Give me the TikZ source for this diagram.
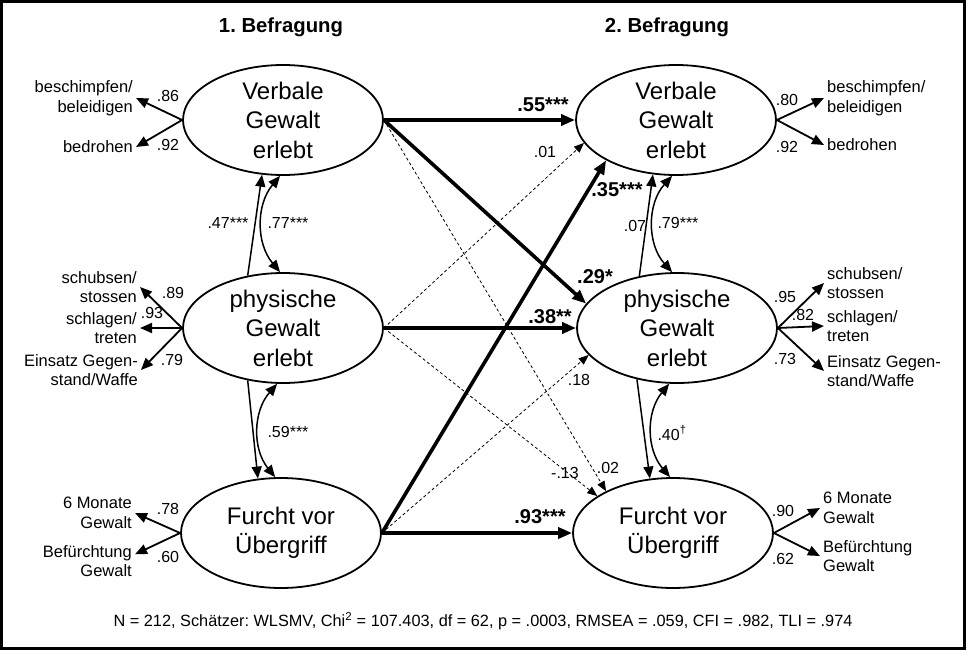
\documentclass[tikz,border=0pt]{standalone}
\usepackage{fontspec}
\setmainfont{Liberation Sans}
\usetikzlibrary{positioning,arrows.meta,shapes.geometric}

\begin{document}
\frenchspacing
\begin{tikzpicture}[x=1pt, y=-1pt,
  latent/.style={draw, ellipse, line width=1.8pt, minimum width=200pt, minimum height=110pt, inner sep=0pt, align=center, font=\fontsize{24}{29.5}\selectfont},
  indl/.style={anchor=east, align=right, inner sep=3pt, font=\fontsize{16.5}{19.5}\selectfont},
  indr/.style={anchor=west, align=left, inner sep=3pt, font=\fontsize{16.5}{19.5}\selectfont},
  coef/.style={inner sep=0pt, font=\fontsize{16}{18}\selectfont},
  bcoef/.style={inner sep=0pt, font=\fontsize{20}{22}\selectfont\bfseries},
  headline/.style={font=\fontsize{20.3}{22}\selectfont\bfseries},
  load/.style={-{Triangle[length=12pt,width=10pt]}, line width=1.8pt},
  reg/.style={-{Triangle[length=12pt,width=10pt]}, line width=1.5pt},
  cov/.style={{Triangle[length=12pt,width=10pt]}-{Triangle[length=12pt,width=10pt]}, line width=1.5pt},
  strong/.style={-{Triangle[length=14pt,width=11pt]}, line width=3.6pt},
  weak/.style={-{Triangle[length=10pt,width=8pt]}, line width=0.8pt, dash pattern=on 3pt off 2.5pt},
]
\useasboundingbox (0,0) rectangle (966,650);
\draw[line width=3pt] (1.5,1.5) rectangle (964.5,648.5);
% --- headings ---
\node[headline] (t1) at (281,27) {1. Befragung};
\node[headline] (t2) at (667,27) {2. Befragung};
% --- latent variables ---
\node[latent] (v1) at (283,120) {Verbale\\Gewalt\\erlebt};
\node[latent] (p1) at (283,328) {physische\\Gewalt\\erlebt};
\node[latent] (f1) at (281,533) {Furcht vor\\Übergriff};
\node[latent] (v2) at (676,120) {Verbale\\Gewalt\\erlebt};
\node[latent] (p2) at (677,328) {physische\\Gewalt\\erlebt};
\node[latent] (f2) at (673,533) {Furcht vor\\Übergriff};
% --- indicators, first wave ---
\node[indl] (vb1) at (136,98) {beschimpfen/\\beleidigen};
\node[indl] (vd1) at (136,147) {bedrohen};
\node[indl] (ps1) at (140,287) {schubsen/\\stossen};
\node[indl] (pt1) at (140,328) {schlagen/\\treten};
\node[indl] (pw1) at (141,370) {Einsatz Gegen-\\stand/Waffe};
\node[indl] (fm1) at (135,513) {6 Monate\\Gewalt};
\node[indl] (fb1) at (135,561) {Befürchtung\\Gewalt};
\draw[load] (v1.west) -- (vb1.east);
\draw[load] (v1.west) -- (vd1.east);
\draw[load] (p1.west) -- (ps1.east);
\draw[load] (p1.west) -- (pt1.east);
\draw[load] (p1.west) -- (pw1.east);
\draw[load] (f1.west) -- (fm1.east);
\draw[load] (f1.west) -- (fb1.8);
\node[coef] (l1) at (168,96) {.86};
\node[coef] (l2) at (168,145) {.92};
\node[coef] (l3) at (173,293) {.89};
\node[coef] (l4) at (152,313) {.93};
\node[coef] (l5) at (172,360) {.79};
\node[coef] (l6) at (168,509) {.78};
\node[coef] (l7) at (168,557) {.60};
% --- indicators, second wave ---
\node[indr] (vb2) at (824,98) {beschimpfen/\\beleidigen};
\node[indr] (vd2) at (824,145) {bedrohen};
\node[indr] (ps2) at (824,283) {schubsen/\\stossen};
\node[indr] (pt2) at (824,326) {schlagen/\\treten};
\node[indr] (pw2) at (824,371) {Einsatz Gegen-\\stand/Waffe};
\node[indr] (fm2) at (820,508) {6 Monate\\Gewalt};
\node[indr] (fb2) at (820,556) {Befürchtung\\Gewalt};
\draw[load] (v2.east) -- (vb2.west);
\draw[load] (v2.east) -- (vd2.west);
\draw[load] (p2.east) -- (ps2.west);
\draw[load] (p2.east) -- (pt2.west);
\draw[load] (p2.east) -- (pw2.west);
\draw[load] (f2.east) -- (fm2.west);
\draw[load] (f2.east) -- (fb2.west);
\node[coef] (r1) at (787,100) {.80};
\node[coef] (r2) at (787,147) {.92};
\node[coef] (r3) at (785,297) {.95};
\node[coef] (r4) at (803,315) {.82};
\node[coef] (r5) at (785,359) {.73};
\node[coef] (r6) at (783,511) {.90};
\node[coef] (r7) at (783,559) {.62};
% --- within-wave paths ---
\draw[reg] (p1.124) -- (v1.249);
\draw[cov] (v1.267) to[bend right=40] (p1.93);
\draw[reg] (p1.236) -- (f1.113);
\draw[cov] (p1.264) to[bend right=40] (f1.96);
\draw[reg] (p2.126) -- (v2.247);
\draw[cov] (v2.266) to[bend right=42] (p2.95);
\draw[reg] (p2.232) -- (f2.113);
\draw[cov] (p2.262) to[bend right=40] (f2.93);
\node[coef] (c1) at (228,223) {.47***};
\node[coef] (c2) at (288,223) {.77***};
\node[coef] (c3) at (288,432) {.59***};
\node[coef] (c4) at (635,226) {.07};
\node[coef] (c5) at (678,223) {.79***};
\node[coef] (c6) at (672,433) {.40\textsuperscript{\textdagger}};
% --- cross-lagged paths ---
\draw[weak] (v1.east) -- (f2.148);
\draw[weak] (p1.east) -- (v2.194);
\draw[weak] (p1.east) -- (f2.154);
\draw[weak] (f1.east) -- (p2.197);
\draw[strong] (v1.east) -- (v2.west);
\draw[strong] (v1.east) -- (p2.165);
\draw[strong] (p1.east) -- (p2.west);
\draw[strong] (f1.east) -- (v2.210);
\draw[strong] (f1.east) -- (f2.west);
\node[bcoef] (s1) at (543,105) {.55***};
\node[coef] (s2) at (545,152) {.01};
\node[bcoef] (s3) at (595,277) {.29*};
\node[bcoef] (s4) at (550,317) {.38**};
\node[coef] (s5) at (579,380) {.18};
\node[coef] (s6) at (565,473) {-.13};
\node[coef] (s7) at (608,468) {.02};
\node[bcoef] (s8) at (617,190) {.35***};
\node[bcoef] (s9) at (540,517) {.93***};
% --- fit ---
\node[font=\fontsize{16.3}{19}\selectfont] (fit) at (483,621) {N = 212, Schätzer: WLSMV, Chi\textsuperscript{2} = 107.403, df = 62, p = .0003, RMSEA = .059, CFI = .982, TLI = .974};
\end{tikzpicture}
\end{document}
